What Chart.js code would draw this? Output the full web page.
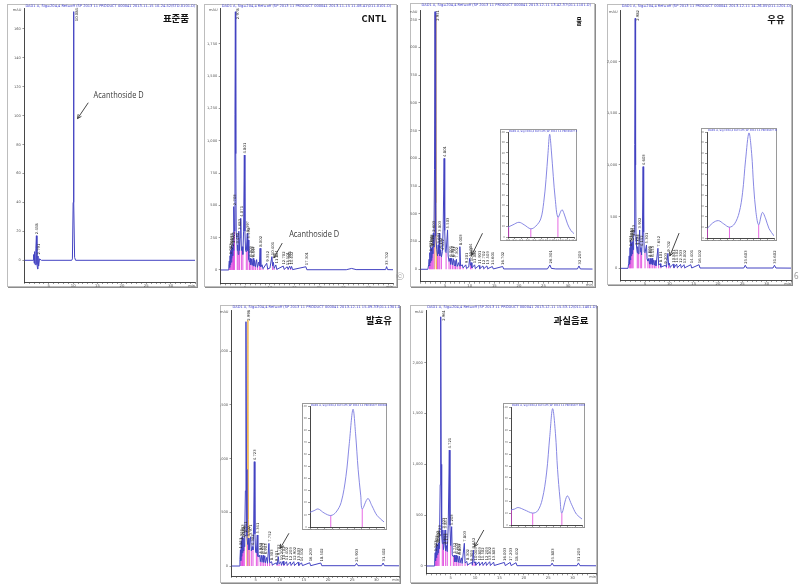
<!DOCTYPE html>
<html>
<head>
<meta charset="utf-8">
<script src="https://cdn.jsdelivr.net/npm/chart.js@4.4.1/dist/chart.umd.min.js"></script>
<style>
  body { margin: 0; width: 802px; height: 587px; position: relative; background: #fff; overflow: hidden; }
  .frame { position: absolute; box-sizing: border-box; border: 1px solid #bdbdbd; box-shadow: 1px 1px 0 #8c8c8c; background: #fff; }
  canvas { position: absolute; }
  .tag { position: absolute; transform: translate(-50%, -50%); font-family: "Noto Sans CJK KR", "Noto Sans", sans-serif; font-weight: 700; font-size: 9.5px; color: #111; line-height: 1; white-space: nowrap; }
  .mark { position: absolute; font-family: "Noto Sans", sans-serif; font-size: 8px; color: #9a9a9a; }
</style>
</head>
<body>
<script>
// ---- chromatogram traces: [time (min), signal (mAU)] ----
const stdTrace = [[0,0],[1.8,0],[1.9,4],[2.0,-2],[2.1,6],[2.2,-3],[2.35,8],[2.46,17],[2.58,-3],[2.72,-6],[2.79,3],[2.92,-4],[3.1,1],[3.5,0],[9.7,0],[9.85,1],[10.0,40],[10.08,172],[10.16,40],[10.3,2],[10.5,0],[35,0]];

const cntlTrace = [[0,0],[1.5,0],[1.65,30],[1.75,70],[1.82,20],[1.9,110],[1.97,40],[2.05,150],[2.12,60],[2.2,190],[2.28,90],[2.36,170],[2.44,110],[2.52,200],[2.6,150],[2.7,490],[2.8,300],[2.9,1200],[2.98,1997],[3.06,900],[3.15,280],[3.28,250],[3.36,150],[3.45,193],[3.55,120],[3.68,300],[3.8,150],[3.95,250],[4.07,400],[4.2,150],[4.35,180],[4.5,120],[4.65,300],[4.8,889],[4.92,300],[5.05,150],[5.2,140],[5.4,283],[5.5,150],[5.6,232],[5.72,80],[5.85,60],[6.0,90],[6.12,40],[6.3,85],[6.42,35],[6.6,90],[6.72,30],[6.9,75],[7.05,25],[7.3,80],[7.45,20],[7.7,60],[7.85,30],[8.0,168],[8.15,25],[8.4,40],[8.6,10],[9.35,52],[9.55,8],[10.0,15],[10.4,103],[10.55,30],[10.7,60],[10.85,12],[11.2,39],[11.4,5],[12.7,30],[12.9,5],[13.5,25],[13.7,5],[14.0,30],[14.2,8],[14.4,28],[14.6,3],[17.3,25],[17.5,2],[25.5,2],[26.6,12],[27.5,3],[33.5,3],[33.7,26],[33.9,3],[35,2]];

const waterTrace = [[0,0],[1.5,0],[1.65,40],[1.75,90],[1.83,30],[1.92,150],[2.0,60],[2.08,204],[2.16,80],[2.25,190],[2.33,100],[2.42,200],[2.5,140],[2.6,325],[2.72,200],[2.85,900],[2.95,2323],[3.04,1100],[3.14,300],[3.3,180],[3.45,120],[3.6,220],[3.72,140],[3.8,325],[3.92,120],[4.1,175],[4.25,110],[4.45,160],[4.62,400],[4.8,1000],[4.92,350],[5.05,160],[5.2,150],[5.5,355],[5.62,120],[5.8,70],[6.0,100],[6.12,45],[6.35,100],[6.48,40],[6.7,95],[6.82,35],[7.0,80],[7.12,30],[7.3,90],[7.45,25],[7.75,60],[7.88,30],[8.0,204],[8.15,30],[8.5,40],[8.65,12],[9.2,40],[9.35,8],[9.8,20],[10.0,99],[10.15,35],[10.3,60],[10.45,12],[11.0,40],[11.15,6],[11.9,35],[12.05,6],[12.7,30],[12.85,5],[13.5,30],[13.65,5],[14.6,25],[14.8,3],[16.7,25],[16.9,3],[25.8,3],[26.3,39],[26.6,8],[27.5,3],[31.9,3],[32.2,30],[32.5,3],[35,2]];
const waterOrange = [[2.9,0],[3.02,2290],[3.12,600],[3.25,0]];

const milkTrace = [[0,0],[1.5,0],[1.65,50],[1.75,120],[1.83,40],[1.92,200],[2.0,80],[2.08,274],[2.16,120],[2.25,250],[2.35,140],[2.45,260],[2.55,180],[2.65,300],[2.78,350],[2.88,1200],[2.98,2419],[3.06,1000],[3.15,300],[3.25,210],[3.4,150],[3.5,210],[3.62,140],[3.75,250],[3.9,371],[4.02,160],[4.15,200],[4.3,130],[4.45,300],[4.6,984],[4.72,350],[4.85,160],[5.0,150],[5.3,226],[5.42,90],[5.6,70],[5.8,97],[5.92,40],[6.1,95],[6.22,40],[6.45,97],[6.58,35],[6.8,80],[6.92,30],[7.1,75],[7.25,25],[7.65,194],[7.8,30],[8.1,45],[8.25,12],[9.2,30],[9.4,12],[9.7,145],[9.85,30],[10.0,50],[10.15,10],[10.8,40],[10.95,6],[11.5,40],[11.65,6],[12.3,38],[12.45,6],[13.0,35],[13.15,5],[14.4,35],[14.6,3],[16.1,35],[16.3,3],[25.3,3],[25.6,30],[25.9,3],[31.3,3],[31.6,30],[31.9,3],[35,2]];

const fermentTrace = [[0,0],[1.6,0],[1.75,60],[1.85,150],[1.93,50],[2.02,230],[2.1,90],[2.2,273],[2.28,120],[2.37,250],[2.45,140],[2.55,260],[2.65,180],[2.75,300],[2.88,700],[3.0,2276],[3.1,900],[3.2,280],[3.35,200],[3.5,260],[3.62,150],[3.8,220],[3.97,273],[4.1,140],[4.3,180],[4.45,150],[4.6,400],[4.72,972],[4.85,300],[5.0,130],[5.15,120],[5.34,289],[5.46,90],[5.7,90],[5.85,102],[5.97,40],[6.2,100],[6.32,35],[6.55,100],[6.67,35],[6.9,95],[7.02,30],[7.3,80],[7.45,25],[7.75,211],[7.9,30],[8.3,40],[8.45,10],[9.3,30],[9.45,10],[9.7,87],[9.85,20],[10.2,40],[10.35,8],[10.7,45],[10.85,8],[11.4,40],[11.55,6],[12.2,38],[12.35,6],[12.9,40],[13.05,5],[13.8,35],[13.95,5],[14.5,30],[14.7,4],[16.2,30],[16.4,3],[18.5,28],[18.7,3],[25.6,3],[25.9,25],[26.2,3],[31.1,3],[31.4,28],[31.7,3],[34.7,2]];
const fermentOrange = [[3.2,0],[3.4,2290],[3.52,430],[3.7,0]];

const fruitTrace = [[0,0],[1.6,0],[1.72,50],[1.82,130],[1.9,50],[2.0,180],[2.08,80],[2.17,223],[2.25,110],[2.35,210],[2.43,130],[2.52,230],[2.62,170],[2.72,280],[2.85,800],[2.96,2451],[3.05,1000],[3.15,300],[3.28,220],[3.4,354],[3.52,160],[3.65,200],[3.85,354],[3.97,150],[4.15,200],[4.3,140],[4.5,400],[4.72,1140],[4.85,400],[5.0,200],[5.2,387],[5.32,110],[5.55,90],[5.75,108],[5.87,40],[6.1,105],[6.22,40],[6.45,100],[6.57,35],[6.8,95],[6.92,30],[7.2,80],[7.35,25],[7.8,223],[7.95,30],[8.3,45],[8.45,10],[9.3,35],[9.45,10],[9.65,157],[9.8,30],[10.0,40],[10.15,8],[10.8,40],[10.95,6],[11.5,38],[11.65,6],[12.2,40],[12.35,6],[13.0,42],[13.15,5],[13.8,38],[13.95,5],[16.0,35],[16.2,4],[17.2,35],[17.4,4],[18.4,32],[18.6,3],[25.5,3],[25.8,28],[26.1,3],[30.9,3],[31.2,30],[31.5,3],[34.8,2]];

// ---- retention-time labels printed above peaks ----
const stdLabels = [2.458, 2.791, 10.084];
const cntlLabels = [1.903, 2.046, 2.198, 2.361, 2.521, 2.703, 2.978, 3.452, 3.683, 4.071, 4.801, 5.397, 5.598, 6.003, 6.301, 6.597, 8.002, 9.352, 10.401, 11.201, 12.702, 13.501, 13.998, 14.402, 17.301, 33.702];
const waterLabels = [1.921, 2.083, 2.251, 2.418, 2.603, 2.951, 3.601, 3.803, 4.102, 4.452, 4.801, 5.503, 6.001, 6.352, 6.701, 7.302, 8.003, 9.201, 10.004, 10.303, 11.002, 11.901, 12.702, 13.503, 14.601, 16.702, 26.301, 32.203];
const milkLabels = [1.921, 2.083, 2.251, 2.452, 2.653, 2.982, 3.253, 3.503, 3.902, 4.152, 4.603, 5.301, 5.801, 6.102, 6.453, 7.652, 8.101, 9.203, 9.702, 10.801, 11.502, 12.303, 13.002, 14.401, 16.102, 25.603, 31.602];
const fermentLabels = [1.851, 2.021, 2.203, 2.372, 2.553, 2.751, 2.998, 3.502, 3.971, 4.302, 4.723, 5.341, 5.852, 6.203, 6.552, 6.903, 7.752, 8.303, 9.301, 9.702, 10.203, 10.702, 11.402, 12.203, 12.902, 13.803, 14.502, 16.203, 18.502, 25.903, 31.402];
const fruitLabels = [1.822, 2.003, 2.172, 2.351, 2.522, 2.723, 2.961, 3.403, 3.652, 3.851, 4.153, 4.721, 5.203, 5.752, 6.103, 6.452, 6.803, 7.803, 8.302, 9.303, 9.652, 10.003, 10.803, 11.502, 12.203, 13.002, 13.803, 16.003, 17.203, 18.402, 25.803, 31.203];

// ---- y tick labels ----
const stdYTicks = [0, 20, 40, 60, 80, 100, 120, 140, 160];
const cntlYTicks = [0, 250, 500, 750, 1000, 1250, 1500, 1750];
const waterYTicks = [0, 250, 500, 750, 1000, 1250, 1500, 1750, 2000, 2250];
const milkYTicks = [0, 500, 1000, 1500, 2000];
const fermentYTicks = [0, 500, 1000, 1500, 2000];
const fruitYTicks = [0, 500, 1000, 1500, 2000];

// ---- zoomed insets around Acanthoside D: [time, signal] ----
const waterInset = [[9.00,9.4],[9.15,11.6],[9.33,14.0],[9.49,11.6],[9.69,7.8],[9.84,10.3],[9.99,17.2],[10.08,32.8],[10.15,54.7],[10.21,79.7],[10.26,97.8],[10.31,82.8],[10.37,57.8],[10.43,35.9],[10.51,18.8],[10.63,25.9],[10.70,21.9],[10.80,12.5],[10.90,6.3],[11.00,3.1]];
const milkInset = [[9.00,8.7],[9.17,14.2],[9.34,16.4],[9.50,13.3],[9.67,10.2],[9.82,13.3],[9.96,24.1],[10.06,42.7],[10.15,73.7],[10.25,99.1],[10.33,79.9],[10.39,48.9],[10.46,24.1],[10.54,12.4],[10.65,24.1],[10.75,18.0],[10.85,8.7],[11.00,1.9]];
const fermentInset = [[9.00,12.2],[9.11,13.5],[9.22,14.9],[9.38,11.6],[9.56,9.5],[9.70,12.2],[9.84,20.3],[9.97,41.9],[10.06,68.9],[10.16,97.3],[10.23,77.0],[10.30,47.3],[10.37,25.7],[10.41,14.9],[10.56,23.5],[10.67,17.6],[10.81,9.5],[11.00,4.1]];
const fruitInset = [[9.00,12.8],[9.09,13.4],[9.20,14.8],[9.38,12.8],[9.61,10.1],[9.75,12.0],[9.88,21.8],[10.00,44.1],[10.09,74.9],[10.17,98.6],[10.25,77.7],[10.31,46.9],[10.38,21.8],[10.43,10.1],[10.58,24.6],[10.70,17.6],[10.84,9.2],[11.00,5.0]];
const waterInsetDrops = [[9.02,9.5],[9.69,7.8],[10.51,18.8]];
const milkInsetDrops = [[9.01,8.7],[9.67,10.2],[10.54,12.4]];
const fermentInsetDrops = [[9.56,9.5],[10.41,14.9]];
const fruitInsetDrops = [[9.01,12.8],[9.61,10.1],[10.43,10.1]];

const TRACE_BLUE = '#4343c2';
const DROP_PINK = '#e044dc';
const ORANGE = '#f2b44c';
const HEADER_BLUE = '#3a3ad0';

// frame = [left, top, width, height]; plot = [left, top, right, bottom] (page px)
const PANELS = [
  { name: '표준품', tagAt: [176, 19], frame: [7, 4, 190, 283], plot: [24.4, 8, 195, 282], xMax: 35, yMin: -15, yMax: 174.5,
    yTicks: stdYTicks, trace: stdTrace, labels: stdLabels,
    header: 'DAD1 A, Sig=204,4 Ref=off (SP 2013 11 PRODUCT 000041 2013-11-15 10-24-52\\STD-0101.D)',
    note: { text: 'Acanthoside D', at: [14.2, 114], from: [13.1, 109], to: [10.9, 98] } },
  { name: 'CNTL', tagAt: [374, 19], frame: [204, 4, 193, 283], plot: [220.7, 8.3, 393, 283.3], xMax: 35, yMin: -103, yMax: 2024,
    yTicks: cntlYTicks, trace: cntlTrace, labels: cntlLabels,
    header: 'DAD1 A, Sig=204,4 Ref=off (SP 2013 11 PRODUCT 000041 2013-11-15 11-08-41\\011-0101.D)',
    note: { text: 'Acanthoside D', at: [13.9, 272], from: [12.5, 208], to: [10.8, 93] } },
  { name: '물', squeeze: true, tagAt: [579, 22], frame: [410, 3, 185, 284], plot: [420.5, 10, 592.7, 281.7], xMax: 35, yMin: -112, yMax: 2338,
    yTicks: waterYTicks, trace: waterTrace, orange: waterOrange, labels: waterLabels,
    header: 'DAD1 A, Sig=204,4 Ref=off (SP 2013 11 PRODUCT 000041 2013-12-11 13-42-37\\011-1101.D)',
    note: { from: [12.6, 325], to: [10.4, 126] },
    inset: { frame: [500, 129, 77, 112], plot: [508, 132, 575, 237], trace: waterInset, drops: waterInsetDrops } },
  { name: '우유', tagAt: [776, 20], frame: [607, 4, 185, 281], plot: [620.7, 10, 791, 280], xMax: 35, yMin: -113, yMax: 2500,
    yTicks: milkYTicks, trace: milkTrace, labels: milkLabels,
    header: 'DAD1 A, Sig=204,4 Ref=off (SP 2013 11 PRODUCT 000041 2013-12-11 14-26-05\\011-1201.D)',
    note: { from: [12.0, 341], to: [10.1, 119] },
    inset: { frame: [701, 128, 76, 113], plot: [707, 132, 775, 238], trace: milkInset, drops: milkInsetDrops } },
  { name: '발효유', tagAt: [379, 321], frame: [220, 305, 180, 278], plot: [231.5, 310, 399, 576], xMax: 34.7, yMin: -93, yMax: 2385,
    yTicks: fermentYTicks, trace: fermentTrace, orange: fermentOrange, labels: fermentLabels,
    header: 'DAD1 A, Sig=204,4 Ref=off (SP 2013 11 PRODUCT 000041 2013-12-11 15-09-33\\011-1301.D)',
    note: { from: [11.9, 305], to: [10.1, 165] },
    inset: { frame: [302, 403, 85, 127], plot: [310, 406, 385, 527], trace: fermentInset, drops: fermentInsetDrops } },
  { name: '과실음료', tagAt: [571, 321], frame: [410, 305, 187, 278], plot: [426.3, 310, 596, 573.3], xMax: 34.8, yMin: -72, yMax: 2518,
    yTicks: fruitYTicks, trace: fruitTrace, labels: fruitLabels,
    header: 'DAD1 A, Sig=204,4 Ref=off (SP 2013 11 PRODUCT 000041 2013-12-11 15-53-12\\011-1401.D)',
    note: { from: [11.8, 354], to: [9.9, 190] },
    inset: { frame: [503, 403, 82, 125], plot: [511, 407, 584, 525], trace: fruitInset, drops: fruitInsetDrops } }
];

const TINY = '"DejaVu Sans", sans-serif';

function toXY(list) {
  return list.map(([t, v]) => ({ x: t, y: v }));
}

// baseline drop lines at every valley of the trace (integration marks)
function valleyDrops(trace) {
  const out = [];
  for (let i = 1; i < trace.length - 1; i++) {
    const [t, v] = trace[i];
    if (v > 3 && v < trace[i - 1][1] && v <= trace[i + 1][1]) {
      out.push({ x: t, y: 0 }, { x: t, y: v }, { x: t, y: null });
    }
  }
  return out;
}

function dropSegments(drops) {
  const out = [];
  drops.forEach(([t, v]) => out.push({ x: t, y: 0 }, { x: t, y: v }, { x: t, y: null }));
  return out;
}

function addBox(cls, box) {
  const d = document.createElement('div');
  d.className = cls;
  d.style.left = box[0] + 'px';
  d.style.top = box[1] + 'px';
  d.style.width = box[2] + 'px';
  d.style.height = box[3] + 'px';
  document.body.appendChild(d);
  return d;
}

function addCanvas(box) {
  const c = document.createElement('canvas');
  c.width = box[2];
  c.height = box[3];
  c.style.left = box[0] + 'px';
  c.style.top = box[1] + 'px';
  document.body.appendChild(c);
  return c;
}

function drawArrow(ctx, x1, y1, x2, y2) {
  ctx.save();
  ctx.strokeStyle = '#333';
  ctx.lineWidth = 0.9;
  ctx.beginPath();
  ctx.moveTo(x1, y1);
  ctx.lineTo(x2, y2);
  const a = Math.atan2(y2 - y1, x2 - x1);
  ctx.moveTo(x2, y2);
  ctx.lineTo(x2 - 4.5 * Math.cos(a - 0.45), y2 - 4.5 * Math.sin(a - 0.45));
  ctx.moveTo(x2, y2);
  ctx.lineTo(x2 - 4.5 * Math.cos(a + 0.45), y2 - 4.5 * Math.sin(a + 0.45));
  ctx.stroke();
  ctx.restore();
}

const decorPlugin = {
  id: 'decor',
  afterDatasetsDraw(chart, args, opts) {
    const { ctx, chartArea, scales: { x, y } } = chart;
    const p = opts.panel;
    ctx.save();

    // header line of the instrument print-out
    ctx.fillStyle = HEADER_BLUE;
    ctx.font = '3.6px ' + TINY;
    ctx.textBaseline = 'top';
    ctx.fillText(p.header, chartArea.left + 1, 0.5);

    // mAU / min
    ctx.fillStyle = '#555';
    ctx.font = '3.6px ' + TINY;
    ctx.textAlign = 'right';
    ctx.textBaseline = 'middle';
    ctx.fillText('mAU', chartArea.left - 3, chartArea.top + 2);
    ctx.textAlign = 'right';
    ctx.textBaseline = 'top';
    ctx.fillText('min', chartArea.right, chartArea.bottom + 2);

    // retention-time labels above the peaks
    ctx.fillStyle = '#2a2a2a';
    ctx.font = '3.8px ' + TINY;
    ctx.textBaseline = 'middle';
    ctx.textAlign = 'left';
    p.labels.forEach(rt => {
      let top = -Infinity;
      p.trace.forEach(([t, v]) => { if (Math.abs(t - rt) <= 0.08 && v > top) top = v; });
      if (top === -Infinity) return;
      const txt = rt.toFixed(3);
      const w = ctx.measureText(txt).width;
      let px = x.getPixelForValue(rt);
      let py = y.getPixelForValue(top) - 1.5;
      if (py - w < chartArea.top) { py = chartArea.top + w; px += 2.2; }
      ctx.save();
      ctx.translate(px + 0.8, py);
      ctx.rotate(-Math.PI / 2);
      ctx.fillText(txt, 0, 0);
      ctx.restore();
    });

    // Acanthoside D arrow and caption
    const n = p.note;
    drawArrow(ctx, x.getPixelForValue(n.from[0]), y.getPixelForValue(n.from[1]),
      x.getPixelForValue(n.to[0]), y.getPixelForValue(n.to[1]));
    if (n.text) {
      ctx.fillStyle = '#3a3a3a';
      ctx.font = '9px "Open Sans", sans-serif';
      ctx.textAlign = 'left';
      ctx.textBaseline = 'middle';
      const tx = x.getPixelForValue(n.at[0]);
      const ty = y.getPixelForValue(n.at[1]);
      const w = ctx.measureText(n.text).width;
      ctx.save();
      ctx.translate(tx, ty);
      ctx.scale(Math.min(1, 50 / w), 1);
      ctx.fillText(n.text, 0, 0);
      ctx.restore();
    }
    ctx.restore();
  }
};

const insetPlugin = {
  id: 'insetDecor',
  afterDatasetsDraw(chart) {
    const { ctx, chartArea } = chart;
    ctx.save();
    ctx.fillStyle = HEADER_BLUE;
    ctx.font = '2.6px ' + TINY;
    ctx.textBaseline = 'top';
    ctx.fillText('DAD1 A, Sig=204,4 Ref=off (SP 2013 11 PRODUCT 000041)', chartArea.left + 1, 0.6);
    ctx.restore();
  }
};

function axisStyle(extra) {
  return Object.assign({
    grid: { drawOnChartArea: false, tickLength: 2, color: '#555', lineWidth: 0.6 },
    border: { color: '#333', width: 0.9 }
  }, extra);
}

PANELS.forEach(p => {
  const [fl, ft, fw, fh] = p.frame;
  const [pl, pt, pr, pb] = p.plot;
  addBox('frame', p.frame);
  const canvas = addCanvas(p.frame);

  const datasets = [
    { data: toXY(p.trace), borderColor: TRACE_BLUE, borderWidth: 1, pointRadius: 0, tension: 0 },
    { data: valleyDrops(p.trace), borderColor: DROP_PINK, borderWidth: 0.9, pointRadius: 0, spanGaps: false }
  ];
  if (p.orange) {
    datasets.push({ data: toXY(p.orange), borderColor: ORANGE, borderWidth: 1, pointRadius: 0 });
  }

  new Chart(canvas, {
    type: 'line',
    data: { datasets },
    options: {
      responsive: false,
      animation: false,
      events: [],
      layout: { autoPadding: false, padding: { left: 0, top: pt - ft, right: fl + fw - pr, bottom: 0 } },
      plugins: { legend: { display: false }, tooltip: { enabled: false }, decor: { panel: p } },
      scales: {
        x: axisStyle({
          type: 'linear', min: 0, max: p.xMax,
          ticks: { stepSize: 1, autoSkip: false, maxRotation: 0, padding: 0, color: '#555',
            font: { size: 3.8, family: TINY },
            callback: v => (v % 5 === 0 && v > 0 && v < 35) ? String(v) : '' },
          afterFit: s => { s.height = ft + fh - pb; }
        }),
        y: axisStyle({
          type: 'linear', min: p.yMin, max: p.yMax,
          afterBuildTicks: s => { s.ticks = p.yTicks.map(v => ({ value: v })); },
          ticks: { padding: 1.5, color: '#555', font: { size: 3.6, family: TINY } },
          afterFit: s => { s.width = pl - fl; }
        })
      }
    },
    plugins: [decorPlugin]
  });

  if (p.inset) {
    const ins = p.inset;
    const [il, it, iw, ih] = ins.frame;
    const [ipl, ipt, ipr, ipb] = ins.plot;
    const box = addBox('frame', ins.frame);
    box.style.borderColor = '#9a9a9a';
    box.style.boxShadow = 'none';
    const c = addCanvas(ins.frame);
    new Chart(c, {
      type: 'line',
      data: {
        datasets: [
          { data: toXY(ins.trace), borderColor: '#7b7be0', borderWidth: 0.9, pointRadius: 0, tension: 0.35 },
          { data: dropSegments(ins.drops), borderColor: DROP_PINK, borderWidth: 0.8, pointRadius: 0 }
        ]
      },
      options: {
        responsive: false,
        animation: false,
        events: [],
        layout: { autoPadding: false, padding: { left: 0, top: ipt - it, right: il + iw - ipr, bottom: 0 } },
        plugins: { legend: { display: false }, tooltip: { enabled: false } },
        scales: {
          x: axisStyle({
            type: 'linear', min: 9.0, max: 11.0,
            ticks: { stepSize: 0.2, autoSkip: false, maxRotation: 0, padding: 0, color: '#777',
              font: { size: 2.6, family: TINY }, callback: v => v.toFixed(1) },
            afterFit: s => { s.height = it + ih - ipb; }
          }),
          y: axisStyle({
            type: 'linear', min: 0, max: 100,
            ticks: { stepSize: 10, padding: 1, color: '#777', font: { size: 2.6, family: TINY } },
            afterFit: s => { s.width = ipl - il; }
          })
        }
      },
      plugins: [insetPlugin]
    });
  }

  const tag = document.createElement('div');
  tag.className = 'tag';
  tag.textContent = p.name;
  tag.style.left = p.tagAt[0] + 'px';
  tag.style.top = p.tagAt[1] + 'px';
  if (p.squeeze) tag.style.transform = 'translate(-50%, -50%) scaleX(0.6)';
  document.body.appendChild(tag);
});

// stray page marks beside the panels
[['ⓒ', 396, 270], ['6', 794, 270]].forEach(([t, x, y]) => {
  const m = document.createElement('div');
  m.className = 'mark';
  m.textContent = t;
  m.style.left = x + 'px';
  m.style.top = y + 'px';
  document.body.appendChild(m);
});
</script>
</body>
</html>
